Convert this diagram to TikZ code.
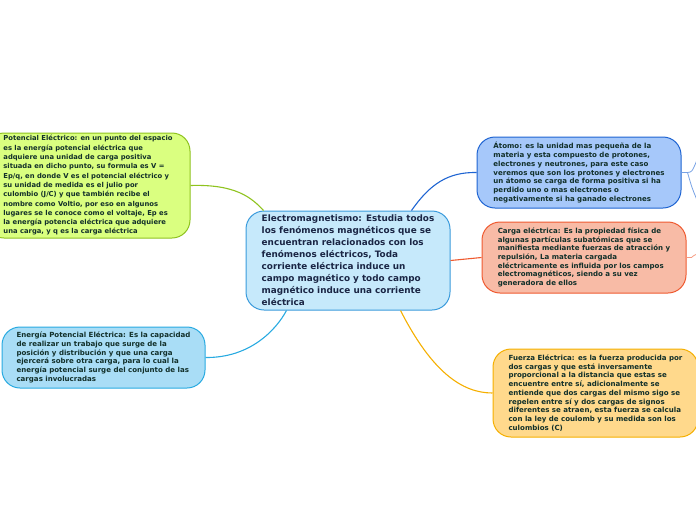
\documentclass[tikz,border=0pt]{standalone}
\usepackage{fontspec}
\setmainfont{DejaVu Sans}
\usetikzlibrary{calc}

\definecolor{txtdark}{HTML}{12302A}
\definecolor{txtnavy}{HTML}{1A2544}
\definecolor{mainfill}{HTML}{C6E9FB}
\definecolor{mainline}{HTML}{3A9BDC}
\definecolor{potfill}{HTML}{DAFF80}
\definecolor{potline}{HTML}{8FC31F}
\definecolor{enefill}{HTML}{A9DDF6}
\definecolor{eneline}{HTML}{28AAE1}
\definecolor{atofill}{HTML}{A6C8FA}
\definecolor{atoline}{HTML}{1E64D2}
\definecolor{carfill}{HTML}{F8BBA6}
\definecolor{carline}{HTML}{EF5A30}
\definecolor{fuefill}{HTML}{FFD98C}
\definecolor{fueline}{HTML}{F5AF00}

\begin{document}
\begin{tikzpicture}[
  x=1pt, y=-1pt,
  every node/.style={font=\bfseries},
  box/.style={rectangle, draw, rounded corners=18pt, line width=1pt,
              align=left, inner sep=0pt, text=txtdark,
              font=\fontsize{7.05}{8.7}\selectfont\bfseries},
  link/.style={line width=1.1pt}
]
  \useasboundingbox (0,0) rectangle (696,520);

  % central topic
  \node[box, fill=mainfill, draw=mainline, text=txtnavy,
        minimum width=204pt, minimum height=99pt,
        font=\fontsize{8.85}{12}\selectfont\bfseries] (em) at (348,260.5)
    {Electromagnetismo: Estudia todos\\los fenómenos magnéticos que se\\encuentran relacionados con los\\fenómenos eléctricos, Toda\\corriente eléctrica induce un\\campo magnético y todo campo\\magnético induce una corriente\\eléctrica};

  % left branches
  \node[box, fill=potfill, draw=potline, minimum width=204pt, minimum height=105pt,
        font=\fontsize{6.8}{9.3}\selectfont\bfseries] (pot) at (88,185.5)
    {Potencial Eléctrico: en un punto del espacio\\es la energía potencial eléctrica que\\adquiere una unidad de carga positiva\\situada en dicho punto,  su formula es V =\\Ep/q, en donde V es el potencial eléctrico y\\su unidad de medida es el julio por\\culombio (J/C) y que también recibe el\\nombre como Voltio, por eso en algunos\\lugares se le conoce como el voltaje, Ep es\\la energía potencia eléctrica que adquiere\\una carga, y q es la carga eléctrica};
  \node[box, fill=enefill, draw=eneline, minimum width=203pt, minimum height=61pt] (ene) at (103.5,357.5)
    {Energía Potencial Eléctrica: Es la capacidad\\de realizar un trabajo que surge de la\\posición y distribución y que una carga\\ejercerá sobre otra carga, para lo cual la\\energía potencial surge del conjunto de las\\cargas involucradas};

  % right branches
  \node[box, fill=atofill, draw=atoline, minimum width=204pt, minimum height=71pt] (ato) at (579,172.5)
    {Átomo: es la unidad mas pequeña de la\\materia y esta compuesto de protones,\\electrones y neutrones, para este caso\\veremos que son los protones y electrones\\un átomo se carga de forma positiva si ha\\perdido uno o mas electrones o\\negativamente si ha ganado electrones};
  \node[box, fill=carfill, draw=carline, minimum width=204pt, minimum height=71pt] (car) at (584,257.5)
    {Carga eléctrica: Es la propiedad física de\\algunas partículas subatómicas que se\\manifiesta mediante fuerzas de atracción y\\repulsión, La materia cargada\\eléctricamente es influida por los campos\\electromagnéticos, siendo a su vez\\generadora de ellos};
  \node[box, fill=fuefill, draw=fueline, minimum width=205pt, minimum height=88pt] (fue) at (595.5,393)
    {Fuerza Eléctrica: es la fuerza producida por\\dos cargas y que está inversamente\\proporcional a la distancia que estas se\\encuentre entre sí, adicionalmente se\\entiende que dos cargas del mismo sigo se\\repelen entre sí y dos cargas  de signos\\diferentes se atraen, esta fuerza se calcula\\con la ley de coulomb y su medida son los\\culombios (C)};

  % connectors
  \draw[link, potline] (pot.east) .. controls (236,184) and (252,198) .. ([xshift=18pt]em.north west);
  \draw[link, eneline] (ene.east) .. controls (250,358) and (276,330) .. ([xshift=41pt]em.south west);
  \draw[link, atoline] ([xshift=-39pt]em.north east) .. controls (430,184) and (448,172) .. (ato.west);
  \draw[link, carline] (em.east) .. controls (466,259) .. (car.west);
  \draw[link, fueline] ([xshift=-50pt]em.south east) .. controls (432,372) and (462,393) .. (fue.west);

  % stubs to hidden children
  \coordinate (atoA) at (697,160);
  \coordinate (atoB) at (697,200);
  \coordinate (carA) at (697,254);
  \draw[line width=0.8pt, atoline!60] (ato.east) -- ++(6,0) .. controls (692,172) .. (atoA);
  \draw[line width=0.8pt, atoline!60] (ato.east) -- ++(6,0) .. controls (692,188) .. (atoB);
  \draw[line width=0.8pt, carline!60] (car.east) -- ++(5,0) .. controls (693,256) .. (carA);
\end{tikzpicture}
\end{document}
